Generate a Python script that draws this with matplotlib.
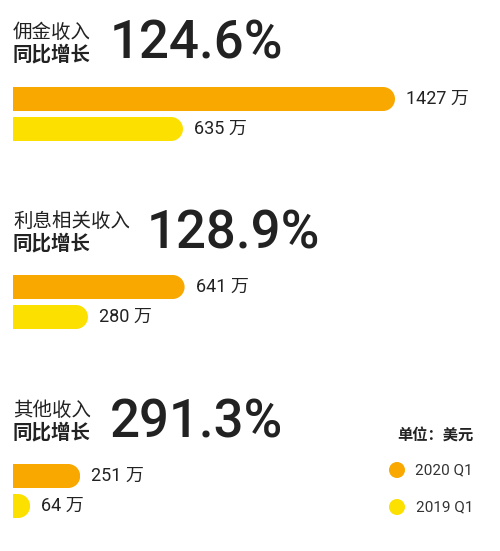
import matplotlib
matplotlib.use("Agg")
import matplotlib.pyplot as plt
import matplotlib.patches as patches

# data
sections = ["佣金收入", "利息相关收入", "其他收入"]
growth = ["124.6%", "128.9%", "291.3%"]
val_2020 = [1427, 641, 251]
val_2019 = [635, 280, 64]
legend_labels = ["2020 Q1", "2019 Q1"]
unit_label = "单位：美元"

ORANGE = "#F9A800"
YELLOW = "#FCE000"
TEXT = "#222222"
CJK = ["Noto Sans CJK SC", "DejaVu Sans"]
NUM = ["Roboto", "Noto Sans CJK SC"]

W, H = 500, 551
px_per_unit = 382 / 1427  # bar length scale
left = 13
bar_h = 24

# vertical layout of each block (pixels from top)
title_y = [32, 221, 410]
sub_y = [55, 244, 433]
big_y = [44, 234, 423]
bar1_y = [99, 287, 476]
bar2_y = [129, 317, 506]

fig = plt.figure(figsize=(W / 100, H / 100), dpi=100)
ax = fig.add_axes([0, 0, 1, 1])
ax.set_xlim(0, W)
ax.set_ylim(H, 0)
ax.set_aspect("equal")
ax.axis("off")


def rounded_bar(yc, value, color):
    w = value * px_per_unit
    r = bar_h / 2
    clip = patches.Rectangle((left, yc - r), w, bar_h, transform=ax.transData)
    ax.barh(yc, max(w - r, 0), left=left, height=bar_h, color=color, lw=0)
    c = patches.Circle((left + w - r, yc), r, color=color, lw=0)
    ax.add_patch(c)
    c.set_clip_path(clip)
    return left + w


for i in range(3):
    ax.text(left, title_y[i], sections[i], fontsize=14, family=CJK, color=TEXT,
            va="center", ha="left")
    ax.text(left, sub_y[i], "同比增长", fontsize=14, family=CJK, color=TEXT,
            va="center", ha="left", fontweight="bold")
    bx = 110 if i != 1 else 147
    ax.text(bx, big_y[i], growth[i], fontsize=38, family=NUM, color=TEXT,
            va="center", ha="left", fontweight="medium")
    e1 = rounded_bar(bar1_y[i], val_2020[i], ORANGE)
    e2 = rounded_bar(bar2_y[i], val_2019[i], YELLOW)
    ax.text(e1 + 11, bar1_y[i], f"{val_2020[i]} 万", fontsize=13, family=NUM,
            color=TEXT, va="center", ha="left")
    ax.text(e2 + 11, bar2_y[i], f"{val_2019[i]} 万", fontsize=13, family=NUM,
            color=TEXT, va="center", ha="left")

# legend
ax.text(473, 435, unit_label, fontsize=11, family=CJK, color=TEXT,
        va="center", ha="right", fontweight="bold")
for lab, col, yy in zip(legend_labels, [ORANGE, YELLOW], [470, 507]):
    ax.add_patch(patches.Circle((397, yy), 8, color=col, lw=0))
    ax.text(473, yy, lab, fontsize=11, family=NUM, color="#333333",
            va="center", ha="right")

fig.savefig("out.png", dpi=100, facecolor="white")
